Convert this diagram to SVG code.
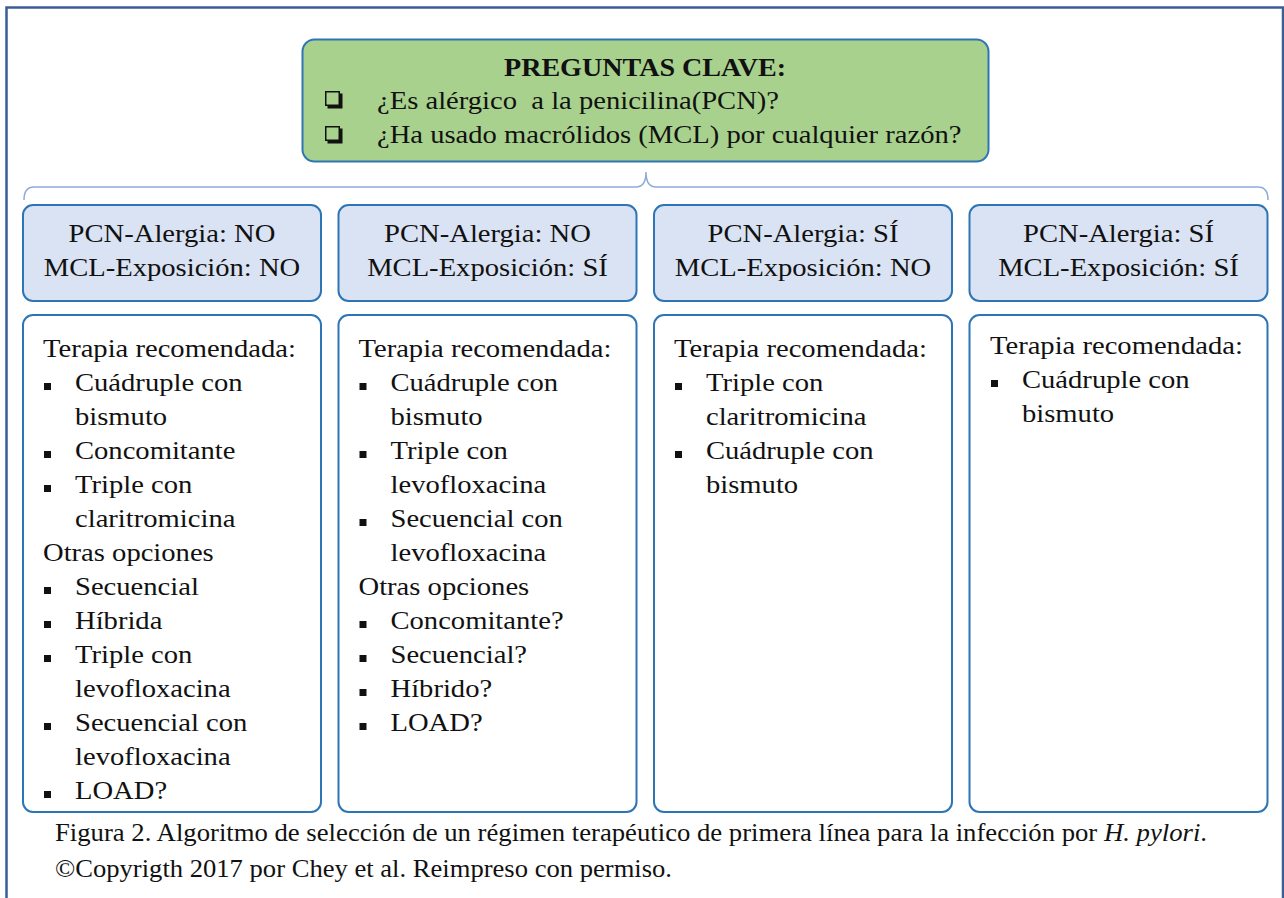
<svg xmlns="http://www.w3.org/2000/svg" width="1284" height="898" viewBox="0 0 1284 898">
<style>
text{font-family:"Liberation Serif","Times New Roman",serif;fill:#111;}
.t{font-size:26px;}
.h{font-size:26px;text-anchor:middle;}
.ti{font-size:26px;font-weight:bold;text-anchor:middle;}
.cap{font-size:26px;}
.box{stroke:#2e75b6;stroke-width:2;}
.b{fill:#111;}
</style>
<defs>
<g id="cb"><rect x="2.5" y="2.5" width="15" height="15" fill="#111"/><rect x="0.75" y="0.75" width="13.5" height="13.5" fill="#a9d18e" stroke="#111" stroke-width="1.5"/></g>
</defs>
<rect x="6.5" y="7.5" width="1276.5" height="900" fill="#fff" stroke="#3b5e97" stroke-width="2.5"/>
<g id="connectors">
<path d="M24,200 Q24,187 34,187 L636,187 Q646,187 646,172 Q646,187 656,187 L1258,187 Q1268,187 1268,200" fill="none" stroke="#8eaadb" stroke-width="1.5"/>
</g>
<g id="preguntas">
<rect class="box" x="302.5" y="39.5" width="686" height="122" rx="12" fill="#a9d18e"/>
<text class="ti" x="645" y="76" transform="matrix(1.08 0 0 1 -51.6 0)">PREGUNTAS CLAVE:</text>
<use href="#cb" x="325" y="91"/>
<use href="#cb" x="325" y="126"/>
<text class="t" x="377" y="109" style="white-space:pre" transform="matrix(1.1 0 0 1 -37.7 0)">¿Es alérgico  a la penicilina(PCN)?</text>
<text class="t" x="377" y="143" transform="matrix(1.1 0 0 1 -37.7 0)">¿Ha usado macrólidos (MCL) por cualquier razón?</text>
</g>
<g id="h1">
<rect class="box" x="23" y="205" width="298" height="96" rx="10" fill="#dae3f3"/>
<text class="h" x="172" y="242" transform="matrix(1.1 0 0 1 -17.2 0)">PCN-Alergia: NO</text>
<text class="h" x="172" y="276" transform="matrix(1.1 0 0 1 -17.2 0)">MCL-Exposición: NO</text>
</g>
<g id="h2">
<rect class="box" x="338.5" y="205" width="298" height="96" rx="10" fill="#dae3f3"/>
<text class="h" x="487.5" y="242" transform="matrix(1.1 0 0 1 -48.75 0)">PCN-Alergia: NO</text>
<text class="h" x="487.5" y="276" transform="matrix(1.1 0 0 1 -48.75 0)">MCL-Exposición: SÍ</text>
</g>
<g id="h3">
<rect class="box" x="654" y="205" width="298" height="96" rx="10" fill="#dae3f3"/>
<text class="h" x="803" y="242" transform="matrix(1.1 0 0 1 -80.3 0)">PCN-Alergia: SÍ</text>
<text class="h" x="803" y="276" transform="matrix(1.1 0 0 1 -80.3 0)">MCL-Exposición: NO</text>
</g>
<g id="h4">
<rect class="box" x="969.5" y="205" width="298" height="96" rx="10" fill="#dae3f3"/>
<text class="h" x="1118.5" y="242" transform="matrix(1.1 0 0 1 -111.85 0)">PCN-Alergia: SÍ</text>
<text class="h" x="1118.5" y="276" transform="matrix(1.1 0 0 1 -111.85 0)">MCL-Exposición: SÍ</text>
</g>
<g id="c1">
<rect class="box" x="23" y="315" width="298" height="497" rx="10" fill="#fff"/>
<rect class="b" x="44" y="383" width="7" height="7"/>
<rect class="b" x="44" y="451" width="7" height="7"/>
<rect class="b" x="44" y="485" width="7" height="7"/>
<rect class="b" x="44" y="587" width="7" height="7"/>
<rect class="b" x="44" y="621" width="7" height="7"/>
<rect class="b" x="44" y="655" width="7" height="7"/>
<rect class="b" x="44" y="723" width="7" height="7"/>
<rect class="b" x="44" y="791" width="7" height="7"/>
<g transform="matrix(1.1 0 0 1 -4.3 0)">
<text class="t" x="43" y="357">Terapia recomendada:</text>
<text class="t" x="43" y="561">Otras opciones</text>
</g>
<g transform="matrix(1.1 0 0 1 -7.5 0)">
<text class="t" x="75" y="391">Cuádruple con</text>
<text class="t" x="75" y="425">bismuto</text>
<text class="t" x="75" y="459">Concomitante</text>
<text class="t" x="75" y="493">Triple con</text>
<text class="t" x="75" y="527">claritromicina</text>
<text class="t" x="75" y="595">Secuencial</text>
<text class="t" x="75" y="629">Híbrida</text>
<text class="t" x="75" y="663">Triple con</text>
<text class="t" x="75" y="697">levofloxacina</text>
<text class="t" x="75" y="731">Secuencial con</text>
<text class="t" x="75" y="765">levofloxacina</text>
<text class="t" x="75" y="799">LOAD?</text>
</g>
</g>
<g id="c2">
<rect class="box" x="338.5" y="315" width="298" height="497" rx="10" fill="#fff"/>
<rect class="b" x="359.5" y="383" width="7" height="7"/>
<rect class="b" x="359.5" y="451" width="7" height="7"/>
<rect class="b" x="359.5" y="519" width="7" height="7"/>
<rect class="b" x="359.5" y="621" width="7" height="7"/>
<rect class="b" x="359.5" y="655" width="7" height="7"/>
<rect class="b" x="359.5" y="689" width="7" height="7"/>
<rect class="b" x="359.5" y="723" width="7" height="7"/>
<g transform="matrix(1.1 0 0 1 -35.85 0)">
<text class="t" x="358.5" y="357">Terapia recomendada:</text>
<text class="t" x="358.5" y="595">Otras opciones</text>
</g>
<g transform="matrix(1.1 0 0 1 -39.05 0)">
<text class="t" x="390.5" y="391">Cuádruple con</text>
<text class="t" x="390.5" y="425">bismuto</text>
<text class="t" x="390.5" y="459">Triple con</text>
<text class="t" x="390.5" y="493">levofloxacina</text>
<text class="t" x="390.5" y="527">Secuencial con</text>
<text class="t" x="390.5" y="561">levofloxacina</text>
<text class="t" x="390.5" y="629">Concomitante?</text>
<text class="t" x="390.5" y="663">Secuencial?</text>
<text class="t" x="390.5" y="697">Híbrido?</text>
<text class="t" x="390.5" y="731">LOAD?</text>
</g>
</g>
<g id="c3">
<rect class="box" x="654" y="315" width="298" height="497" rx="10" fill="#fff"/>
<rect class="b" x="675" y="383" width="7" height="7"/>
<rect class="b" x="675" y="451" width="7" height="7"/>
<g transform="matrix(1.1 0 0 1 -67.4 0)">
<text class="t" x="674" y="357">Terapia recomendada:</text>
</g>
<g transform="matrix(1.1 0 0 1 -70.6 0)">
<text class="t" x="706" y="391">Triple con</text>
<text class="t" x="706" y="425">claritromicina</text>
<text class="t" x="706" y="459">Cuádruple con</text>
<text class="t" x="706" y="493">bismuto</text>
</g>
</g>
<g id="c4">
<rect class="box" x="969.5" y="315" width="298" height="497" rx="10" fill="#fff"/>
<rect class="b" x="991" y="380" width="7" height="7"/>
<g transform="matrix(1.1 0 0 1 -99 0)">
<text class="t" x="990" y="354">Terapia recomendada:</text>
</g>
<g transform="matrix(1.1 0 0 1 -102.2 0)">
<text class="t" x="1022" y="388">Cuádruple con</text>
<text class="t" x="1022" y="422">bismuto</text>
</g>
</g>
<g id="caption">
<text class="cap" x="55" y="841" textLength="1152" lengthAdjust="spacingAndGlyphs">Figura 2. Algoritmo de selección de un régimen terapéutico de primera línea para la infección por <tspan font-style="italic">H. pylori</tspan>.</text>
<text class="cap" x="55" y="877" textLength="617" lengthAdjust="spacingAndGlyphs">©Copyrigth 2017 por Chey et al. Reimpreso con permiso.</text>
</g>
</svg>
